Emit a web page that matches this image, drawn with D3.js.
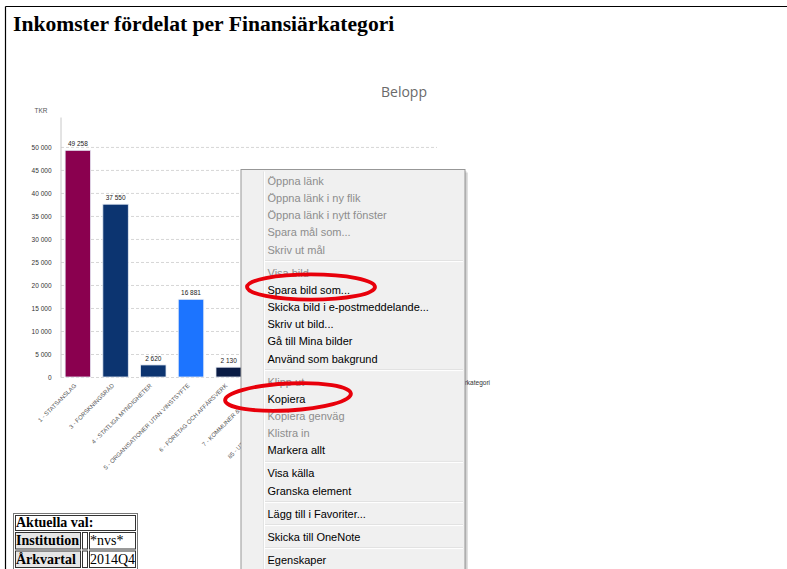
<!DOCTYPE html>
<html>
<head>
<meta charset="utf-8">
<script src="https://cdn.jsdelivr.net/npm/d3@7"></script>
<style>
  body { margin: 0; background: #fff; }
  svg { display: block; }
</style>
</head>
<body>
<script>
// chart data
const categories = ["1 - STATSANSLAG", "3 - FORSKNINGSRÅD", "4 - STATLIGA MYNDIGHETER",
  "5 - ORGANISATIONER UTAN VINSTSYFTE", "6 - FÖRETAG OCH AFFÄRSVERK",
  "7 - KOMMUNER & LANDSTING", "85 - UTLÄNDSKA ORGANISATIONER"];
const values = [49258, 37550, 2620, 16881, 2130, 1240, 860];
const barColors = ["#8a004f", "#0c3470", "#0c3470", "#1c74ff", "#0a1c45", "#2f5fa8", "#5b8fd0"];
const yTicks = d3.range(0, 50001, 5000);

// context menu (null = separator)
const menuItems = ["Öppna länk", "Öppna länk i ny flik", "Öppna länk i nytt fönster", "Spara mål som...", "Skriv ut mål", null,
  "Visa bild", "Spara bild som...", "Skicka bild i e-postmeddelande...", "Skriv ut bild...", "Gå till Mina bilder", "Använd som bakgrund", null,
  "Klipp ut", "Kopiera", "Kopiera genväg", "Klistra in", "Markera allt", null,
  "Visa källa", "Granska element", null,
  "Lägg till i Favoriter...", null,
  "Skicka till OneNote", null,
  "Egenskaper"];
const disabledItems = ["Öppna länk", "Öppna länk i ny flik", "Öppna länk i nytt fönster", "Spara mål som...", "Skriv ut mål",
  "Visa bild", "Klipp ut", "Kopiera genväg", "Klistra in"];

// selection table
const selLabels = ["Institution", "Årkvartal"];
const selValues = ["*nvs*", "2014Q4"];

const W = 787, H = 569;
const mx = 241, my = 169.5, mw = 224;   // menu box
const svg = d3.select('body').append('svg').attr('width', W).attr('height', H);

// page frame
svg.append('line').attr('x1', 5.5).attr('x2', W).attr('y1', 6.5).attr('y2', 6.5).attr('stroke', '#000').attr('stroke-width', 1.2);
svg.append('line').attr('x1', 5.5).attr('x2', 5.5).attr('y1', 6.5).attr('y2', H).attr('stroke', '#000').attr('stroke-width', 1.2);

svg.append('text').attr('x', 13).attr('y', 30.5)
  .attr('font-family', 'Liberation Serif, Times New Roman, serif').attr('font-weight', 'bold').attr('font-size', 21.6)
  .text('Inkomster fördelat per Finansiärkategori');

// chart
const x = d3.scaleBand().domain(categories).range([59, 323]).paddingInner(0.325).paddingOuter(0.1625);
const y = d3.scaleLinear().domain([0, 56500]).range([377, 117]);
const gridRight = 437;
const fmt = d3.formatLocale({ decimal: ",", thousands: " ", grouping: [3], currency: ["", ""] }).format(",d");

const chart = svg.append('g').attr('font-family', 'Liberation Sans, Arial, sans-serif');

chart.append('text').attr('x', 404).attr('y', 96.5).attr('text-anchor', 'middle')
  .attr('font-family', 'Open Sans, sans-serif').attr('font-size', 14).attr('fill', '#6a6a6a').text('Belopp');

chart.append('text').attr('x', 41).attr('y', 113).attr('text-anchor', 'middle')
  .attr('font-size', 6.5).attr('fill', '#555').text('TKR');

// grid
chart.append('g')
  .attr('transform', 'translate(61,0)')
  .call(d3.axisRight(y).tickValues(yTicks).tickSize(gridRight - 61).tickFormat(''))
  .call(g => g.select('.domain').remove())
  .call(g => g.selectAll('line').attr('stroke', '#d6d6d6').attr('stroke-dasharray', '3,2'));

// y axis
chart.append('g')
  .attr('transform', 'translate(60.5,0)')
  .call(d3.axisLeft(y).tickValues(yTicks).tickSize(0).tickSizeOuter(0).tickPadding(9).tickFormat(fmt))
  .call(g => g.select('.domain').attr('stroke', '#c8c8c8'))
  .call(g => g.selectAll('text').attr('font-size', 6.5).attr('fill', '#333').attr('font-family', 'Liberation Sans, Arial, sans-serif'));

// bars
chart.selectAll('rect.bar')
  .data(values)
  .enter()
    .append('rect')
    .attr('class', 'bar')
    .attr('x', (d, i) => x(categories[i]))
    .attr('y', d => y(d))
    .attr('width', x.bandwidth())
    .attr('height', d => y(0) - y(d))
    .attr('fill', (d, i) => barColors[i])
    .attr('stroke', '#e6ecf5')
    .attr('stroke-width', 0.8);

// value labels (the ones under the menu would not show anyway)
chart.selectAll('text.val')
  .data(values.map((v, i) => [categories[i], v]).filter(d => x(d[0]) + x.bandwidth() / 2 < mx))
  .enter()
    .append('text')
    .attr('class', 'val')
    .attr('x', d => x(d[0]) + x.bandwidth() / 2)
    .attr('y', d => y(d[1]) - 4)
    .attr('text-anchor', 'middle')
    .attr('font-size', 6.5).attr('fill', '#222')
    .text(d => fmt(d[1]));

// x labels
chart.selectAll('text.cat')
  .data(categories)
  .enter()
    .append('text')
    .attr('class', 'cat')
    .attr('transform', d => `translate(${x(d) + x.bandwidth() / 2 - 1},386) rotate(-45)`)
    .attr('text-anchor', 'end')
    .attr('font-size', 6).attr('fill', '#555')
    .text(d => d);

chart.append('text').attr('x', 490).attr('y', 385).attr('text-anchor', 'end')
  .attr('font-size', 6.5).attr('fill', '#333').text('Finansiärkategori');

// selection table
const tab = svg.append('g').attr('font-family', 'Liberation Serif, Times New Roman, serif').attr('font-size', 14);
tab.append('rect').attr('x', 13.5).attr('y', 513.5).attr('width', 124).attr('height', 60).attr('fill', '#fff').attr('stroke', '#777');
tab.append('rect').attr('x', 15.5).attr('y', 515.5).attr('width', 120).attr('height', 15).attr('fill', '#fff').attr('stroke', '#333');
tab.append('text').attr('x', 16).attr('y', 527).attr('font-weight', 'bold').text('Aktuella val:');
selLabels.forEach((lab, i) => {
  const ty = 532.5 + i * 18.5;
  tab.append('rect').attr('x', 15.5).attr('y', ty).attr('width', 65).attr('height', 16.5).attr('fill', '#e6e6e6').attr('stroke', '#333');
  tab.append('rect').attr('x', 82.5).attr('y', ty).attr('width', 5).attr('height', 16.5).attr('fill', '#fff').attr('stroke', '#333');
  tab.append('rect').attr('x', 89.5).attr('y', ty).attr('width', 46).attr('height', 16.5).attr('fill', '#fff').attr('stroke', '#333');
  tab.append('text').attr('x', 16).attr('y', ty + 12.5).attr('font-weight', 'bold').text(lab);
  tab.append('text').attr('x', 90).attr('y', ty + 12.5).text(selValues[i]);
});

// context menu
const menu = svg.append('g').attr('font-family', 'Liberation Sans, Arial, sans-serif').attr('font-size', 11);
menu.append('rect').attr('x', mx + 3).attr('y', my + 3).attr('width', mw).attr('height', H).attr('fill', '#000').attr('opacity', 0.12);
menu.append('rect').attr('x', mx + 1.5).attr('y', my + 1.5).attr('width', mw).attr('height', H).attr('fill', '#000').attr('opacity', 0.12);
menu.append('rect').attr('x', mx).attr('y', my).attr('width', mw).attr('height', H).attr('fill', '#f0f0f0').attr('stroke', '#979797');
menu.append('line').attr('x1', mx + 22.5).attr('x2', mx + 22.5).attr('y1', my + 2).attr('y2', H).attr('stroke', '#e2e3e3');
menu.append('line').attr('x1', mx + 23.5).attr('x2', mx + 23.5).attr('y1', my + 2).attr('y2', H).attr('stroke', '#fff');

let cy = my + 2.6;
menuItems.forEach(item => {
  if (item === null) {
    menu.append('line').attr('x1', mx + 24).attr('x2', mx + mw - 2).attr('y1', cy + 2.5).attr('y2', cy + 2.5).attr('stroke', '#e0e0e0');
    menu.append('line').attr('x1', mx + 24).attr('x2', mx + mw - 2).attr('y1', cy + 3.5).attr('y2', cy + 3.5).attr('stroke', '#fff');
    cy += 5.8;
  } else {
    menu.append('text').attr('x', mx + 26.5).attr('y', cy + 12.6)
      .attr('fill', disabledItems.includes(item) ? '#8d8d8d' : '#000')
      .text(item);
    cy += 17.2;
  }
});

// red marks
svg.append('ellipse').attr('cx', 311).attr('cy', 287).attr('rx', 64).attr('ry', 12.7)
  .attr('fill', 'none').attr('stroke', '#e8000b').attr('stroke-width', 3.8);
svg.append('ellipse').attr('cx', 288).attr('cy', 397).attr('rx', 63).attr('ry', 13.5)
  .attr('transform', 'rotate(-3 288 397)')
  .attr('fill', 'none').attr('stroke', '#e8000b').attr('stroke-width', 3.8);
</script>
</body>
</html>
